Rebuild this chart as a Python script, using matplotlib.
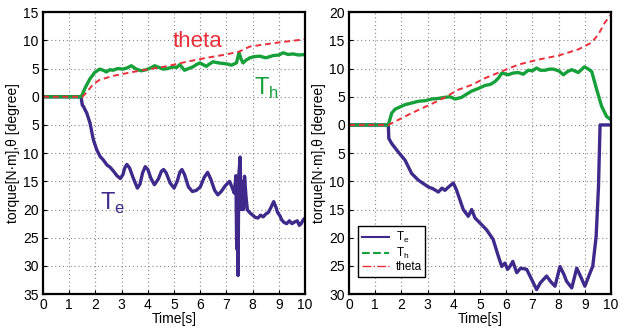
import matplotlib
matplotlib.use("Agg")
import matplotlib.pyplot as plt
from matplotlib.lines import Line2D
from matplotlib.ticker import FuncFormatter

plt.rcParams['font.family'] = ['Liberation Sans', 'DejaVu Sans']

# === datos ===
# izquierda
t_te_a = [0, 1.45, 1.5, 1.54, 1.67, 1.79, 1.92, 2.05, 2.18, 2.3,
          2.44, 2.56, 2.69, 2.82, 2.95, 3.05, 3.12, 3.2, 3.3, 3.45,
          3.6, 3.7, 3.8, 3.9, 4.0, 4.12, 4.25, 4.4, 4.52, 4.6,
          4.7, 4.85, 5.0, 5.12, 5.22, 5.3, 5.4, 5.55, 5.7, 5.85,
          6.0, 6.15, 6.28, 6.4, 6.55, 6.67, 6.8, 6.95, 7.12, 7.25,
          7.3, 7.36, 7.39, 7.42, 7.44, 7.47, 7.52, 7.56, 7.6, 7.65,
          7.69, 7.75, 7.8, 7.9, 8.0, 8.1, 8.2, 8.3, 8.4, 8.5,
          8.6, 8.7, 8.8, 8.88, 8.95, 9.05, 9.1, 9.2, 9.3, 9.4,
          9.5, 9.6, 9.7, 9.78, 9.85, 9.93, 10]
te_a = [0, 0, -1.5, -1.7, -2.9, -4.6, -7.6, -9.4, -10.6, -11.2,
        -12.1, -12.5, -13.2, -14.0, -14.5, -13.8, -12.6, -12.0, -12.6, -14.5,
        -16.2, -15.5, -13.5, -12.4, -12.9, -14.5, -15.6, -14.6, -13.2, -12.9,
        -13.5, -15.3, -16.2, -15.0, -13.4, -12.9, -13.8, -16.0, -16.8, -16.6,
        -16.0, -14.3, -13.4, -14.6, -16.6, -17.4, -16.8, -15.8, -15.0, -16.5,
        -17.1, -14.0, -27, -18, -31.7, -14, -10.7, -20, -15, -20,
        -14.1, -18, -20.1, -20.6, -21.0, -21.4, -21.5, -21.0, -21.3, -20.8,
        -20.5, -19.6, -18.6, -19.5, -20.5, -21.2, -21.8, -22.3, -22.5, -22.0,
        -22.5, -22.2, -22.0, -22.8, -22.5, -21.8, -21.5]

t_th_a = [0, 1.46, 1.6, 1.78, 1.97, 2.16, 2.3, 2.42, 2.55, 2.67, 2.85, 3.05, 3.2, 3.37, 3.56, 3.75,
          3.94, 4.1, 4.26, 4.42, 4.58, 4.75, 4.96, 5.1, 5.22, 5.4, 5.55, 5.72, 5.85, 5.98, 6.23, 6.35,
          6.49, 6.7, 6.87, 7.05, 7.19, 7.38, 7.48, 7.55, 7.63, 7.75, 7.89, 8.05, 8.27, 8.5, 8.78,
          9.0, 9.16, 9.35, 9.54, 9.75, 10]
th_a = [0, 0, 1.5, 3.1, 4.3, 4.9, 4.7, 4.4, 4.8, 4.7, 5.0, 4.9, 5.1, 5.5, 4.9, 4.6,
        4.8, 5.1, 5.5, 5.2, 4.9, 5.0, 5.3, 5.2, 5.7, 4.7, 5.0, 5.3, 5.7, 6.0, 5.4, 5.8,
        6.2, 6.0, 5.9, 5.8, 5.6, 6.0, 7.8, 6.8, 6.0, 6.5, 6.9, 7.1, 7.2, 6.9, 7.3,
        7.4, 7.8, 7.5, 7.6, 7.4, 7.5]

t_theta_a = [0, 1.5, 1.65, 1.91, 2.16, 2.67, 3.43, 3.94, 4.71, 5.47, 6.23, 6.99, 7.48, 7.89, 8.78, 10]
theta_a = [0, 0, 0.7, 2.2, 3.0, 3.7, 4.4, 4.8, 5.4, 6.2, 6.9, 7.5, 8.0, 8.9, 9.5, 10.2]

# derecha
t_te_b = [0, 1.5, 1.52, 1.63, 1.88, 2.14, 2.39, 2.65, 3.03, 3.2,
          3.41, 3.55, 3.66, 3.8, 3.98, 4.1, 4.36, 4.55, 4.68, 4.81,
          5.0, 5.25, 5.5, 5.7, 5.83, 5.95, 6.05, 6.14, 6.25, 6.4,
          6.55, 6.78, 6.97, 7.16, 7.3, 7.54, 7.7, 7.86, 8.05, 8.2,
          8.3, 8.5, 8.69, 8.85, 9.0, 9.2, 9.3, 9.43, 9.52, 9.58,
          9.8, 10]
te_b = [0, 0, -2.4, -3.3, -4.8, -6.25, -8.6, -9.8, -11.0, -11.3,
        -11.9, -11.2, -11.6, -11.0, -10.3, -11.5, -15.0, -16.2, -15.0, -16.5,
        -17.4, -18.6, -20.3, -23.3, -25.1, -24.5, -25.6, -25.1, -24.2, -26.2,
        -25.4, -25.6, -27.4, -29.2, -28.0, -26.8, -27.8, -28.6, -25.1, -26.5,
        -27.7, -28.9, -25.4, -27.0, -28.6, -26.2, -25.1, -19.8, -10.9, 0,
        0, 0]

t_th_b = [0, 1.5, 1.63, 1.76, 2.14, 2.4, 2.65, 2.9, 3.16, 3.4, 3.66, 3.85, 4.05, 4.3, 4.5, 4.68,
          4.9, 5.19, 5.4, 5.57, 5.7, 5.83, 6.08, 6.25, 6.46, 6.65, 6.84, 7.0, 7.16, 7.3, 7.48, 7.65,
          7.8, 8.0, 8.18, 8.35, 8.5, 8.75, 8.98, 9.1, 9.26, 9.45, 9.64, 9.83, 10]
th_b = [0, 0, 2.1, 2.8, 3.6, 3.9, 4.2, 4.3, 4.6, 4.7, 4.9, 5.0, 4.6, 4.9, 5.5, 6.0,
        6.4, 7.0, 7.2, 7.7, 8.3, 9.2, 8.9, 9.2, 9.3, 9.0, 9.7, 9.6, 10.1, 9.7, 9.7, 9.9,
        9.9, 9.6, 8.9, 9.5, 9.8, 9.3, 10.3, 10.0, 9.5, 6.3, 3.3, 1.5, 0.9]

t_theta_b = [0, 1.5, 1.88, 2.39, 3.16, 3.66, 4.17, 4.68, 5.19, 5.83, 6.46, 7.23, 7.99, 8.75, 9.26, 9.52, 9.77, 10]
theta_b = [0, 0, 0.9, 2.1, 3.75, 4.9, 6.25, 7.1, 8.3, 9.5, 10.7, 11.6, 12.3, 13.4, 14.6, 16.1, 18.2, 19.6]

c_te = '#3f2a8c'
c_th = '#15a03a'
c_theta = '#e8303a'

fig = plt.figure(figsize=(6.27, 3.29), dpi=100)
ax1 = fig.add_axes([0.0686, 0.106, 0.418, 0.857])
ax2 = fig.add_axes([0.5566, 0.106, 0.418, 0.857])

abs_fmt = FuncFormatter(lambda v, p: f"{abs(v):g}")

for ax, ylim in [(ax1, (-35, 15)), (ax2, (-30, 20))]:
    ax.set_xlim(0, 10)
    ax.set_ylim(*ylim)
    ax.set_xticks(range(0, 11))
    ax.set_yticks(range(ylim[0], ylim[1] + 1, 5))
    ax.yaxis.set_major_formatter(abs_fmt)
    ax.grid(True, linestyle=(0, (1, 2.5)), color='#888888', linewidth=0.8)
    ax.tick_params(direction='in', labelsize=10, length=3, pad=3)
    for s in ax.spines.values():
        s.set_linewidth(1.6)
    ax.set_xlabel("Time[s]", fontsize=10, labelpad=0)
    ax.set_ylabel("torque[N·m],θ [degree]", fontsize=10, labelpad=2)

# izquierda
ax1.plot(t_te_a, te_a, color=c_te, linewidth=2.4)
ax1.plot(t_th_a, th_a, color=c_th, linewidth=2.4)
ax1.plot(t_theta_a, theta_a, color=c_theta, linewidth=1.4, linestyle=(0, (3, 2)))
ax1.text(4.96, 8.8, "theta", color=c_theta, fontsize=16)
ax1.text(8.05, 0.4, "T$_\\mathregular{h}$", color=c_th, fontsize=17)
ax1.text(2.18, -20.1, "T$_\\mathregular{e}$", color=c_te, fontsize=17)

# derecha
ax2.plot(t_te_b, te_b, color=c_te, linewidth=2.4)
ax2.plot(t_th_b, th_b, color=c_th, linewidth=2.4)
ax2.plot(t_theta_b, theta_b, color=c_theta, linewidth=1.4, linestyle=(0, (3, 2)))

handles = [Line2D([], [], color=c_te, linewidth=1.5),
           Line2D([], [], color=c_th, linewidth=1.5, linestyle='--'),
           Line2D([], [], color=c_theta, linewidth=1.0, linestyle='-.')]
leg = ax2.legend(handles, ["T$_\\mathregular{e}$", "T$_\\mathregular{h}$", "theta"],
                 loc='lower left', bbox_to_anchor=(0.012, 0.04), fontsize=8.5,
                 frameon=True, fancybox=False, edgecolor='black', framealpha=1,
                 handlelength=2.3, handletextpad=0.6, labelspacing=0.05, borderpad=0.3)
leg.get_frame().set_linewidth(1.0)

fig.savefig("out.png", dpi=100)
